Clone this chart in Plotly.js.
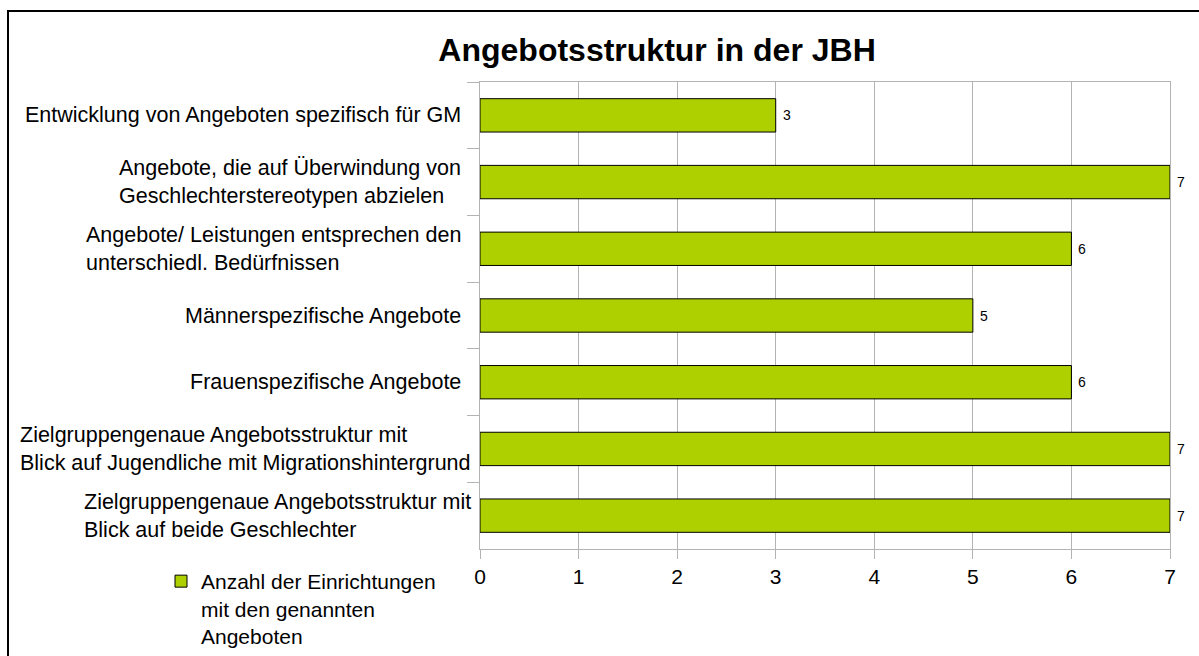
<!DOCTYPE html>
<html>
<head>
<meta charset="utf-8">
<script src="https://cdn.plot.ly/plotly-3.0.1.min.js"></script>
<style>
  html, body { margin: 0; padding: 0; background: #ffffff; }
  #wrap { position: relative; width: 1199px; height: 656px; overflow: hidden; }
  #chart { position: absolute; left: 0; top: 0; width: 1199px; height: 656px; }
  #frame { position: absolute; left: 7px; top: 10px; right: -10px; bottom: -10px;
           border-left: 2.5px solid #000; border-top: 2.5px solid #000; pointer-events: none; }
</style>
</head>
<body>
<div id="wrap">
  <div id="chart"></div>
  <div id="frame"></div>
</div>
<script>
// Categories (top to bottom as shown)
const categories = [
  "Entwicklung von Angeboten spezifisch für GM",
  "Angebote, die auf Überwindung von<br>Geschlechterstereotypen abzielen",
  "Angebote/ Leistungen entsprechen den<br>unterschiedl. Bedürfnissen",
  "Männerspezifische Angebote",
  "Frauenspezifische Angebote",
  "Zielgruppengenaue Angebotsstruktur mit<br>Blick auf Jugendliche mit Migrationshintergrund",
  "Zielgruppengenaue Angebotsstruktur mit<br>Blick auf beide Geschlechter"
];
const values = [3, 7, 6, 5, 6, 7, 7];
const seriesName = "Anzahl der Einrichtungen<br>mit den genannten<br>Angeboten";
const xTickValues = [0, 1, 2, 3, 4, 5, 6, 7];
const chartTitle = "Angebotsstruktur in der JBH";

const FONT = '"Liberation Sans", Arial, sans-serif';

const trace = {
  type: 'bar',
  orientation: 'h',
  x: values,
  y: categories,
  name: seriesName,
  width: 0.5,
  marker: { color: '#aecf00', line: { color: '#000000', width: 1 } },
  hoverinfo: 'none',
  showlegend: true
};

const annotations = [];
categories.forEach((c, i) => {
  // the two widest label blocks sit slightly further right in the original
  const wide = i >= 5;
  annotations.push({
    x: -0.024, xref: 'paper', y: c, yref: 'y',
    text: c, showarrow: false, xanchor: 'right', yanchor: 'middle', align: 'left',
    xshift: wide ? 10 : 0,
    font: { family: FONT, size: 21.5, color: '#000' }
  });
  annotations.push({
    x: values[i], xref: 'x', y: c, yref: 'y',
    text: String(values[i]), showarrow: false, xanchor: 'left', yanchor: 'middle',
    xshift: 5, font: { family: FONT, size: 14, color: '#000' }
  });
});

const layout = {
  width: 1199, height: 656,
  margin: { l: 480, r: 29, t: 82, b: 107, pad: 0, autoexpand: false },
  paper_bgcolor: '#ffffff', plot_bgcolor: '#ffffff',
  font: { family: FONT, size: 21, color: '#000' },
  title: {
    text: '<b>' + chartTitle + '</b>',
    font: { family: FONT, size: 32, color: '#000' },
    x: 0.548, xanchor: 'center', xref: 'container',
    y: 0.924, yanchor: 'middle', yref: 'container'
  },
  xaxis: {
    range: [0, 7], tickvals: xTickValues, ticktext: xTickValues.map(String),
    showgrid: true, gridcolor: '#b3b3b3', gridwidth: 1,
    showline: true, linecolor: '#b3b3b3', linewidth: 1, mirror: true,
    ticks: 'outside', ticklen: 9, tickcolor: '#b3b3b3', tickwidth: 1,
    tickfont: { family: FONT, size: 21, color: '#000' },
    zeroline: false, fixedrange: true
  },
  yaxis: {
    type: 'category', autorange: 'reversed',
    showticklabels: false, showgrid: false,
    showline: true, linecolor: '#b3b3b3', linewidth: 1, mirror: true,
    ticks: 'outside', tickson: 'boundaries', ticklen: 12, tickcolor: '#b3b3b3', tickwidth: 1,
    zeroline: false, fixedrange: true
  },
  showlegend: true,
  legend: {
    xref: 'container', yref: 'container',
    x: 161 / 1199, xanchor: 'left', y: 1 - 561 / 656, yanchor: 'top',
    font: { family: FONT, size: 21, color: '#000' },
    bgcolor: 'rgba(0,0,0,0)', borderwidth: 0, valign: 'top',
    itemclick: false, itemdoubleclick: false
  },
  bargap: 0.5,
  annotations: annotations
};

Plotly.newPlot('chart', [trace], layout, { displayModeBar: false, staticPlot: true });
</script>
</body>
</html>
